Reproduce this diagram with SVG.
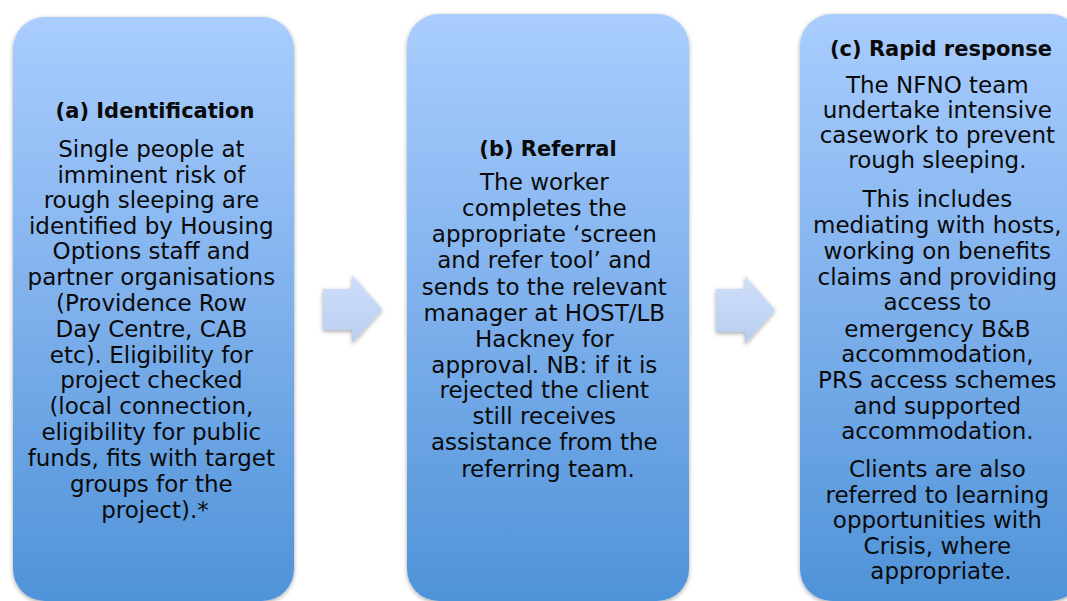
<svg xmlns="http://www.w3.org/2000/svg" width="1067" height="601" viewBox="0 0 1067 601">
  <defs>
    <linearGradient id="boxGrad" x1="0" y1="0" x2="0" y2="1">
      <stop offset="0" stop-color="#A9CDFE"/>
      <stop offset="0.5" stop-color="#7EB0EC"/>
      <stop offset="1" stop-color="#4F93D8"/>
    </linearGradient>
    <linearGradient id="arrowGrad" x1="0" y1="0" x2="0" y2="1">
      <stop offset="0" stop-color="#CEDFFA"/>
      <stop offset="1" stop-color="#B8CDEF"/>
    </linearGradient>
    <filter id="shadow" x="-10%" y="-10%" width="120%" height="120%">
      <feDropShadow dx="0" dy="1.5" stdDeviation="2" flood-color="#000" flood-opacity="0.35"/>
    </filter>
  </defs>
  <style>
    .box { fill: url(#boxGrad); filter: url(#shadow); }
    .arrow { fill: url(#arrowGrad); filter: url(#shadow); }
    .title { font-family: "DejaVu Sans", "Liberation Sans", sans-serif; font-weight: bold; font-size: 21px; fill: #0A0A0A; text-anchor: middle; }
    .body { font-family: "DejaVu Sans", "Liberation Sans", sans-serif; font-size: 23px; fill: #0A0A0A; text-anchor: middle; }
  </style>
  <rect width="1067" height="601" fill="#FFFFFF"/>

  <g id="connectors">
    <polygon class="arrow" points="323,289 352,289 352,275 382,309.5 352,343 352,330 323,330"/>
    <polygon class="arrow" points="716,289 745,289 745,276 775,310 745,344 745,332 716,332"/>
  </g>

  <g id="node-a">
    <rect class="box" x="13" y="17" width="281" height="584" rx="32" ry="32"/>
    <text class="title" x="155" y="118">(a) Identification</text>
    <text class="body" x="155">
      <tspan x="155" y="157">Single people at</tspan>
      <tspan x="155" y="182.5">imminent risk of</tspan>
      <tspan x="155" y="208">rough sleeping are</tspan>
      <tspan x="155" y="233.5">identified by Housing</tspan>
      <tspan x="155" y="259">Options staff and</tspan>
      <tspan x="155" y="285">partner organisations</tspan>
      <tspan x="155" y="310.5">(Providence Row</tspan>
      <tspan x="155" y="336.5">Day Centre, CAB</tspan>
      <tspan x="155" y="362.5">etc). Eligibility for</tspan>
      <tspan x="155" y="388">project checked</tspan>
      <tspan x="155" y="414">(local connection,</tspan>
      <tspan x="155" y="440">eligibility for public</tspan>
      <tspan x="155" y="466">funds, fits with target</tspan>
      <tspan x="155" y="492">groups for the</tspan>
      <tspan x="155" y="518">project).*</tspan>
    </text>
  </g>

  <g id="node-b">
    <rect class="box" x="407" y="14" width="282" height="587" rx="32" ry="32"/>
    <text class="title" x="548" y="156">(b) Referral</text>
    <text class="body" x="548">
      <tspan x="548" y="190">The worker</tspan>
      <tspan x="548" y="216">completes the</tspan>
      <tspan x="548" y="242">appropriate ‘screen</tspan>
      <tspan x="548" y="268">and refer tool’ and</tspan>
      <tspan x="548" y="294.5">sends to the relevant</tspan>
      <tspan x="548" y="320.5">manager at HOST/LB</tspan>
      <tspan x="548" y="346.5">Hackney for</tspan>
      <tspan x="548" y="372.5">approval. NB: if it is</tspan>
      <tspan x="548" y="398">rejected the client</tspan>
      <tspan x="548" y="423.5">still receives</tspan>
      <tspan x="548" y="450">assistance from the</tspan>
      <tspan x="548" y="477">referring team.</tspan>
    </text>
  </g>

  <g id="node-c">
    <rect class="box" x="800" y="14" width="282" height="587" rx="32" ry="32"/>
    <text class="title" x="941" y="56">(c) Rapid response</text>
    <text class="body" x="941">
      <tspan x="941" y="93">The NFNO team</tspan>
      <tspan x="941" y="118">undertake intensive</tspan>
      <tspan x="941" y="143">casework to prevent</tspan>
      <tspan x="941" y="168">rough sleeping.</tspan>
      <tspan x="941" y="207">This includes</tspan>
      <tspan x="941" y="233">mediating with hosts,</tspan>
      <tspan x="941" y="259">working on benefits</tspan>
      <tspan x="941" y="285">claims and providing</tspan>
      <tspan x="941" y="310">access to</tspan>
      <tspan x="941" y="336.5">emergency B&amp;B</tspan>
      <tspan x="941" y="362">accommodation,</tspan>
      <tspan x="941" y="388">PRS access schemes</tspan>
      <tspan x="941" y="413.5">and supported</tspan>
      <tspan x="941" y="439">accommodation.</tspan>
      <tspan x="941" y="477">Clients are also</tspan>
      <tspan x="941" y="502.5">referred to learning</tspan>
      <tspan x="941" y="528">opportunities with</tspan>
      <tspan x="941" y="553.5">Crisis, where</tspan>
      <tspan x="941" y="579">appropriate.</tspan>
    </text>
  </g>
</svg>
